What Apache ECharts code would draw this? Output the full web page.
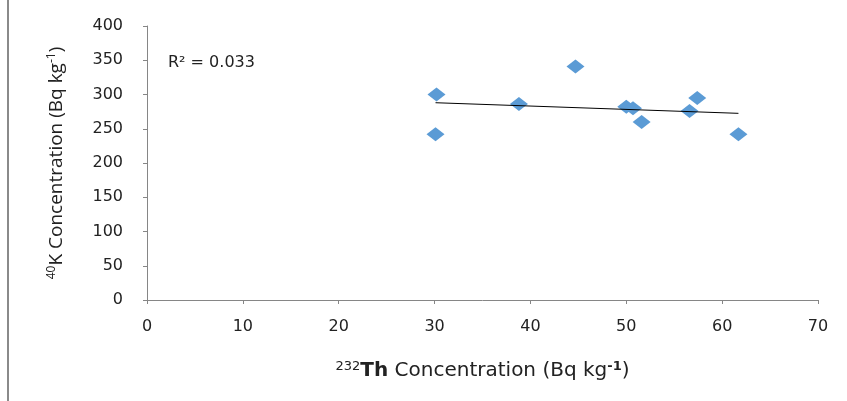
<!DOCTYPE html>
<html>
<head>
<meta charset="utf-8">
<script src="https://cdn.jsdelivr.net/npm/echarts@6/dist/echarts.min.js"></script>
<style>
html,body{margin:0;padding:0;background:#fff;}
#wrap{position:relative;width:847px;height:401px;}
#chart{position:absolute;left:0;top:0;width:847px;height:401px;}
#edge{position:absolute;left:7px;top:0;width:2px;height:401px;background:#8a8a8a;}
</style>
</head>
<body>
<div id="wrap"><div id="chart"></div><div id="edge"></div></div>
<script>
// 232Th concentration (Bq/kg)
const thValues = [30.2, 30.1, 38.8, 44.7, 50.0, 50.7, 51.6, 56.6, 57.4, 61.7];
// 40K concentration (Bq/kg)
const kValues = [300, 242, 286, 341, 282, 280, 260, 276, 295, 242];
// linear trend line end points
const trendX = [30.1, 61.7];
const trendY = [288, 272.5];
const rSquaredText = 'R² = 0.033';
const xTicks = [0, 10, 20, 30, 40, 50, 60, 70];
const yTicks = [0, 50, 100, 150, 200, 250, 300, 350, 400];

const points = thValues.map((x, i) => [x, kValues[i]]);
const trend = trendX.map((x, i) => [x, trendY[i]]);

const chart = echarts.init(document.getElementById('chart'));
chart.setOption({
  animation: false,
  title: {
    text: rSquaredText,
    left: 163, top: 50,
    textStyle: {fontFamily: 'DejaVu Sans', fontSize: 16, fontWeight: 'normal', color: '#222'}
  },
  grid: {left: 147, top: 26, right: 29, bottom: 101},
  xAxis: {
    type: 'value', min: xTicks[0], max: xTicks[xTicks.length - 1], interval: 10,
    splitLine: {show: false},
    axisLine: {show: true, lineStyle: {color: '#868686', width: 1}},
    axisTick: {show: true, length: 4, lineStyle: {color: '#868686'}},
    axisLabel: {margin: 19, fontFamily: 'DejaVu Sans', fontSize: 16, color: '#222'},
    name: '{sup|232}{b|Th}{n| Concentration (Bq kg}{sup2|-1}{n|)}',
    nameLocation: 'middle', nameGap: 60,
    nameTextStyle: {
      rich: {
        n: {fontFamily: 'DejaVu Sans', fontSize: 20, color: '#222'},
        b: {fontFamily: 'DejaVu Sans', fontSize: 20, fontWeight: 'bold', color: '#222'},
        sup: {fontFamily: 'DejaVu Sans', fontSize: 13, color: '#222', padding: [0, 0, 9, 0]},
        sup2: {fontFamily: 'DejaVu Sans', fontSize: 13, fontWeight: 'bold', color: '#222', padding: [0, 0, 9, 0]}
      }
    }
  },
  yAxis: {
    type: 'value', min: yTicks[0], max: yTicks[yTicks.length - 1], interval: 50,
    splitLine: {show: false},
    axisLine: {show: true, lineStyle: {color: '#868686', width: 1}},
    axisTick: {show: true, length: 4, lineStyle: {color: '#868686'}},
    axisLabel: {margin: 24, fontFamily: 'DejaVu Sans', fontSize: 16, color: '#222'},
    name: '{sup|40}{n|K Concentration (Bq kg}{sup|-1}{n|)}',
    nameLocation: 'middle', nameGap: 80, nameRotate: 90,
    nameTextStyle: {
      rich: {
        n: {fontFamily: 'Open Sans', fontSize: 19, color: '#222'},
        sup: {fontFamily: 'Open Sans', fontSize: 12, color: '#222', padding: [0, 0, 9, 0]}
      }
    }
  },
  series: [
    {
      type: 'line', data: trend, showSymbol: false, symbol: 'none',
      lineStyle: {color: '#000', width: 1}, z: 3
    },
    {
      type: 'scatter', data: points, symbol: 'diamond', symbolSize: [18, 14],
      itemStyle: {color: '#5B9BD5', opacity: 1}, z: 2
    }
  ]
});
</script>
</body>
</html>
